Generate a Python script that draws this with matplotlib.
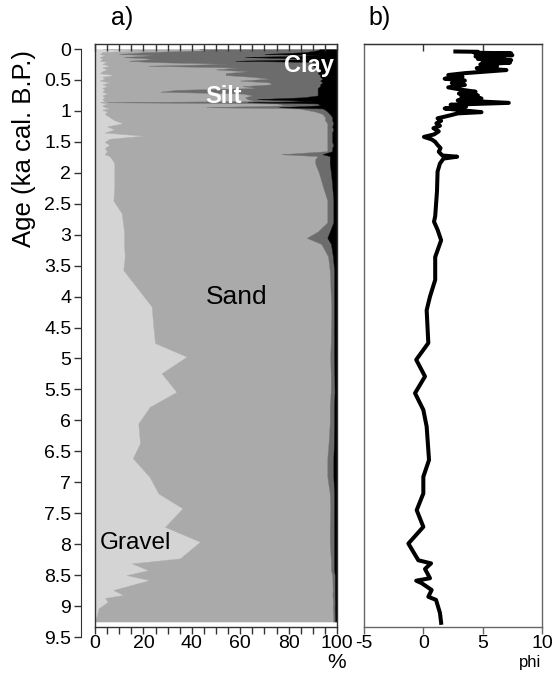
import numpy as np
import matplotlib
matplotlib.use("Agg")
import matplotlib.pyplot as plt

plt.rcParams['font.family'] = ['Liberation Sans', 'DejaVu Sans']
plt.rcParams['axes.unicode_minus'] = False

# grain-size fractions (%) against age (ka cal. B.P.)
age = [0.0, 0.02, 0.05, 0.08, 0.10, 0.13, 0.16, 0.19, 0.21, 0.24, 0.27, 0.30, 0.33,
       0.36, 0.39, 0.42, 0.45, 0.48, 0.51, 0.54, 0.57, 0.60, 0.63, 0.66, 0.69, 0.72,
       0.75, 0.78, 0.81, 0.84, 0.86, 0.88, 0.91, 0.94, 0.96, 0.98, 1.01, 1.05, 1.10,
       1.15, 1.20, 1.25, 1.30, 1.35, 1.40, 1.45, 1.50, 1.55, 1.60, 1.65, 1.70, 1.73,
       1.78, 1.85, 2.0, 2.2, 2.45, 2.65, 2.8, 2.95, 3.05, 3.15, 3.35, 3.57, 4.16,
       4.48, 4.75, 4.97, 5.24, 5.54, 5.78, 6.05, 6.37, 6.61, 6.91, 7.18, 7.42, 7.72,
       7.96, 8.23, 8.31, 8.42, 8.50, 8.58, 8.74, 8.82, 8.87, 8.93, 9.04, 9.15, 9.25]
gravel = [3, 18, 3, 2, 4, 2, 3, 2, 5, 3, 6, 3, 5,
          3, 2, 8, 3, 4, 2, 6, 3, 5, 3, 4, 3, 5,
          3, 4, 3, 4, 2, 5, 3, 4, 6, 3, 5, 4, 6,
          8, 11.5, 5, 8, 4, 20, 6, 4, 6, 4, 5, 4, 6,
          7, 8, 8, 8, 7.6, 11, 11.5, 12, 12, 12, 12.3, 11.7, 23.4,
          24.1, 24.8, 37.9, 27.5, 33.7, 22.7, 17.9, 18.6, 15.6, 22.5, 26.2, 36.2, 28.9,
          43.4, 35.1, 15.2, 22, 13.1, 22.5, 7.6, 11.7, 4.1, 5.3, 1.4, 0.8, 0]
sand = [40, 30, 18, 8, 20, 10, 22, 12, 18, 52, 16, 56, 45,
        60, 52, 46, 62, 68, 58, 66, 70, 56, 64, 30, 24, 56,
        62, 58, 60, 62, 3, 70, 76, 42, 78, 84, 86, 90, 89,
        87, 84.5, 91, 88, 92, 76, 90, 92, 90, 92, 91, 73, 86,
        84, 83, 84.5, 86, 88.4, 85, 84.5, 80, 75.5, 81.5, 84, 85.3, 74.2,
        73.4, 72.6, 59.3, 69.9, 63.7, 74.3, 79.1, 77.9, 80.4, 73.5, 70.8, 61, 68.1,
        53.6, 62.3, 82.3, 75.5, 84.9, 75.6, 90.6, 86.4, 94.1, 93, 96.8, 97.6, 98.4]
silt = [50, 44, 66, 60, 69, 50, 66, 44, 68, 36, 68, 32, 42,
        30, 38, 39, 28, 22, 33, 22, 20, 32, 25, 58, 65, 31,
        27, 24, 4, 24, 58, 17, 14, 30, 10, 8, 5, 3, 3,
        3, 2.5, 2, 2.5, 2, 2, 2, 2, 2.5, 2, 2, 17, 5,
        6, 6, 5, 4, 2.5, 2.5, 2.5, 5, 8.5, 4, 2, 1.8, 1.2,
        1.3, 1.4, 1.6, 1.5, 1.6, 1.8, 1.8, 2.2, 2.5, 2.5, 1.8, 1.6, 1.8,
        1.8, 1.4, 1.3, 1.3, 1.1, 1.0, 0.9, 1.0, 0.9, 0.9, 0.9, 0.8, 0.8]
clay = [7, 8, 13, 30, 7, 38, 9, 42, 9, 9, 10, 9, 8,
        7, 8, 7, 7, 6, 7, 6, 7, 7, 8, 8, 8, 8,
        8, 14, 33, 10, 37, 8, 7, 24, 6, 5, 4, 3, 2,
        2, 2, 2, 1.5, 2, 2, 2, 2, 1.5, 2, 2, 6, 3,
        3, 3, 2.5, 2, 1.5, 1.5, 1.5, 3, 4, 2.5, 1.7, 1.2, 1.2,
        1.2, 1.2, 1.2, 1.1, 1.0, 1.2, 1.2, 1.3, 1.5, 1.5, 1.2, 1.2, 1.2,
        1.2, 1.2, 1.2, 1.2, 0.9, 0.9, 0.9, 0.9, 0.9, 0.8, 0.9, 0.8, 0.8]

fractions = ['Gravel', 'Sand', 'Silt', 'Clay']
frac_colors = ['#d4d4d4', '#aaaaaa', '#6c6c6c', '#000000']

# mean grain size (phi) against age
phi_age = [0.04, 0.045, 0.06, 0.07, 0.09, 0.10, 0.12, 0.14, 0.16, 0.18, 0.20, 0.22,
           0.25, 0.28, 0.31, 0.34, 0.37, 0.39, 0.42, 0.45, 0.48, 0.51, 0.55, 0.58,
           0.62, 0.66, 0.69, 0.72, 0.75, 0.78, 0.80, 0.83, 0.87, 0.90, 0.93, 0.96,
           0.99, 1.02, 1.04, 1.07, 1.12, 1.16, 1.20, 1.24, 1.28, 1.33, 1.38, 1.42,
           1.46, 1.50, 1.55, 1.60, 1.66, 1.72, 1.74, 1.77, 1.85, 1.98, 2.3, 2.7,
           2.79, 2.92, 3.09, 3.36, 3.73, 4.0, 4.22, 4.75, 5.02, 5.29, 5.56, 5.83,
           6.1, 6.64, 6.91, 7.18, 7.45, 7.72, 7.99, 8.26, 8.31, 8.4, 8.55, 8.59,
           8.63, 8.74, 8.85, 8.9, 9.11, 9.27]
phi = [2.7, 4.6, 4.3, 7.4, 4.8, 7.5, 4.4, 6.8, 4.6, 7.4, 5.0, 7.3,
       4.8, 6.2, 4.5, 7.0, 4.9, 3.5, 2.1, 3.3, 1.8, 3.5, 2.4, 3.5,
       2.1, 3.3, 4.4, 3.0, 4.6, 3.2, 4.9, 2.9, 7.2, 2.3, 3.6, 1.8,
       3.3, 4.9, 2.9, 2.3, 1.2, 1.5, 1.1, 1.4, 0.85, 1.3, 0.9, 0.05,
       0.7, 1.0, 1.2, 1.45, 1.3, 1.6, 2.85, 1.7, 1.4, 1.2, 1.15, 1.0,
       0.9, 1.2, 1.5, 1.0, 1.0, 0.56, 0.28, 0.42, -0.6, 0.14, -0.7, 0.0,
       0.28, 0.48, 0.0, 0.0, -0.56, 0.0, -1.26, -0.42, 0.65, 0.14, 0.56, -0.6,
       -0.14, 0.7, 0.42, 1.07, 1.4, 1.5]

age_ticks = np.arange(0, 9.51, 0.5)
W, H = 555, 677

fig = plt.figure(figsize=(W / 100, H / 100), dpi=100)


def frac(x0, y_top, x1, y_bot):
    return [x0 / W, 1 - y_bot / H, (x1 - x0) / W, (y_bot - y_top) / H]


ylim = (9.338, -0.081)
spine_col = '#333333'

# ---- a) stacked grain-size fractions
ax_a = fig.add_axes(frac(95, 44, 337, 627))
values = np.array([gravel, sand, silt, clay], dtype=float)
tops = np.cumsum(values, axis=0)
bases = tops - values
for b, t, c in zip(bases, tops, frac_colors):
    ax_a.fill_betweenx(age, b, t, facecolor=c, edgecolor=c, lw=0.3)
ax_a.set_xlim(0, 100)
ax_a.set_ylim(*ylim)
ax_a.set_yticks([])
ax_a.set_xticks(np.arange(0, 101, 20))
ax_a.set_xticks(np.arange(0, 101, 5), minor=True)
ax_a.tick_params(axis='x', which='both', direction='out', length=5, width=1,
                 color=spine_col, labelsize=14, pad=0.5, top=True)
for s in ax_a.spines.values():
    s.set_color(spine_col)
    s.set_linewidth(1)
# top ticks point inward
for t in ax_a.xaxis.get_major_ticks() + ax_a.xaxis.get_minor_ticks():
    t.tick2line.set_marker(matplotlib.markers.TICKDOWN)

ax_a.text(88.4, 0.26, 'Clay', color='white', fontsize=17, fontweight='bold',
          ha='center', va='center')
ax_a.text(53, 0.77, 'Silt', color='white', fontsize=17, fontweight='bold',
          ha='center', va='center')
ax_a.text(58.5, 4.0, 'Sand', color='black', fontsize=19, ha='center', va='center')
ax_a.text(16.8, 7.98, 'Gravel', color='black', fontsize=17.5, ha='center', va='center')

# separate age axis on the left
ax_y = fig.add_axes(frac(81, 49, 82, 637))
ax_y.set_ylim(9.5, 0)
ax_y.set_yticks(age_ticks)
ax_y.set_yticklabels([f'{v:g}' for v in age_ticks])
ax_y.set_xticks([])
ax_y.patch.set_visible(False)
for k in ['top', 'right', 'bottom']:
    ax_y.spines[k].set_visible(False)
ax_y.spines['left'].set_color(spine_col)
ax_y.tick_params(axis='y', direction='out', length=5, width=1, color=spine_col,
                 labelsize=14, pad=2)
ax_y.set_ylabel('Age (ka cal. B.P.)', fontsize=18.5, labelpad=6)
ax_y.yaxis.label.set_position((0, 0.83))

# ---- b) mean grain size
ax_b = fig.add_axes(frac(364, 44, 542, 627))
ax_b.plot(phi, phi_age, color='black', lw=2.9, solid_joinstyle='round')
ax_b.set_xlim(-5, 10)
ax_b.set_ylim(*ylim)
ax_b.set_yticks([])
ax_b.set_xticks([-5, 0, 5, 10])
ax_b.tick_params(axis='x', direction='out', length=5, width=1, color='#666666',
                 labelsize=14, pad=0.5)
for s in ax_b.spines.values():
    s.set_color('#666666')
    s.set_linewidth(1)
ax_b.spines['top'].set_color(spine_col)
sec = ax_b.secondary_xaxis('top')
sec.set_xticks([0, 5], labels=[])
sec.tick_params(axis='x', direction='in', length=5, width=1, color=spine_col)
sec.spines['top'].set_color(spine_col)

fig.text(122 / W, 1 - 18 / H, 'a)', fontsize=18, ha='center', va='center')
fig.text(380 / W, 1 - 18 / H, 'b)', fontsize=18, ha='center', va='center')
fig.text(337 / W, 1 - 663 / H, '%', fontsize=15, ha='center', va='center')
fig.text(530 / W, 1 - 663 / H, 'phi', fontsize=12, ha='center', va='center')

fig.savefig('out.png', dpi=100)
